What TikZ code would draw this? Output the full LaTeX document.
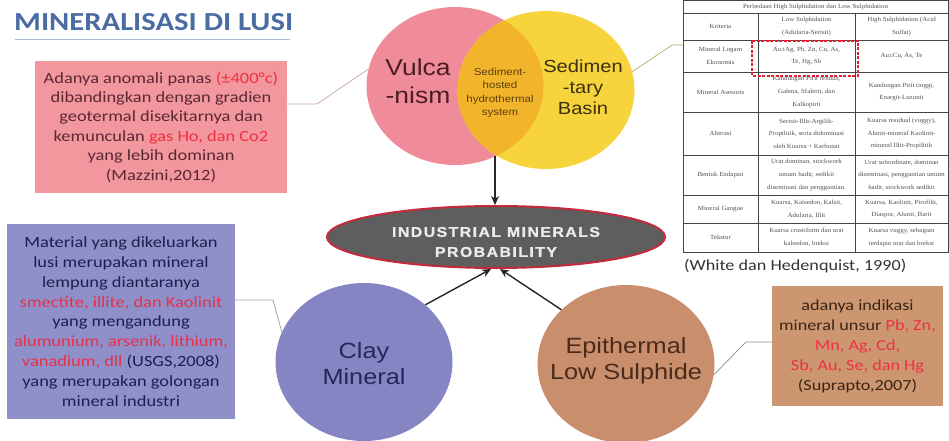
\documentclass[tikz,border=0pt]{standalone}
\usepackage{fontspec}
\setmainfont[FakeStretch=1.18]{Carlito}
\newfontfamily\arialf[FakeStretch=1.15]{Liberation Sans}
\newfontfamily\elfont[FakeStretch=1.12,LetterSpace=10,FakeBold=1.2]{Liberation Sans Bold}
\newfontfamily\tabf[FakeStretch=1.1]{Liberation Serif}
\usetikzlibrary{shapes.geometric,arrows.meta}
\definecolor{titleblue}{HTML}{4B6BA3}
\definecolor{uline}{HTML}{A8B8E0}
\definecolor{pinkbox}{HTML}{F3979F}
\definecolor{pinktxt}{HTML}{5A2832}
\definecolor{redtxt}{HTML}{F03040}
\definecolor{vulc}{HTML}{F08C99}
\definecolor{sedy}{HTML}{F7D33C}
\definecolor{ovl}{HTML}{F2B42A}
\definecolor{vultxt}{HTML}{4A1E24}
\definecolor{sedtxt}{HTML}{3C3010}
\definecolor{ovltxt}{HTML}{5A4010}
\definecolor{impfill}{HTML}{5E5E5E}
\definecolor{impedge}{HTML}{C42A3E}
\definecolor{purbox}{HTML}{8F8FC9}
\definecolor{purtxt}{HTML}{1E1E50}
\definecolor{purred}{HTML}{E8304A}
\definecolor{claycol}{HTML}{8585C3}
\definecolor{claytxt}{HTML}{26265A}
\definecolor{epicol}{HTML}{C98F6C}
\definecolor{epitxt}{HTML}{4A2A1A}
\definecolor{tanbox}{HTML}{CC9670}
\definecolor{tantxt}{HTML}{3A2414}
\definecolor{tabline}{HTML}{444444}
\definecolor{tabtxt}{HTML}{505050}
\definecolor{dashred}{HTML}{E02030}
\begin{document}
\begin{tikzpicture}[x=1pt,y=-1pt,
  boxtext/.style={align=center,inner sep=0pt,font=\fontsize{15.6}{19.4}\selectfont},
  bigcirc/.style={ellipse,minimum width=177pt,minimum height=158pt,inner sep=0pt},
  circlabel/.style={align=center,font=\arialf\fontsize{22}{26}\selectfont},
  conn/.style={line width=0.7pt},
  arr/.style={line width=1.4pt,draw=black!85,-{Stealth[length=9pt,width=8pt]}},
  cell/.style={align=center,inner sep=0pt,text=tabtxt,font=\tabf\fontsize{6.3}{12.6}\selectfont},
  ]
\useasboundingbox (0,0) rectangle (949,441);
\clip (0,0) rectangle (949,441);

% title
\node[anchor=west,inner sep=0pt,text=titleblue,font=\bfseries\fontsize{26}{30}\selectfont] (title) at (14,22) {MINERALISASI DI LUSI};
\draw[uline,line width=0.5pt] (15,39) -- (290,39);

% venn
\node[bigcirc,fill=vulc] (vul) at (455,86) {};
\node[bigcirc,fill=sedy] (sed) at (546,90) {};
\begin{scope}
  \clip (455,86) ellipse [x radius=88.5, y radius=79];
  \fill[ovl] (546,90) ellipse [x radius=88.5, y radius=79];
\end{scope}
\node[align=center,text=vultxt,font=\arialf\fontsize{23}{28}\selectfont] (vult) at (418,81) {Vulca\\-nism};
\node[align=center,text=sedtxt,font=\arialf\fontsize{17.5}{21}\selectfont] (sedt) at (583,87) {Sedimen\\-tary\\Basin};
\node[align=center,text=ovltxt,font=\arialf\fontsize{10}{13.3}\selectfont] (ovlt) at (500,93) {Sediment-\\hosted\\hydrothermal\\system};

% central ellipse
\node[ellipse,minimum width=338pt,minimum height=62pt,fill=impfill,draw=impedge,line width=2pt] (imp) at (496,237) {};
\node[align=center,text=white!92!black,font=\elfont\fontsize{14.2}{20}\selectfont] (impt) at (496,242) {INDUSTRIAL MINERALS\\PROBABILITY};

% arrow from venn
\coordinate (vbot) at (495,156);
\draw[arr] (vbot) -- (vbot |- imp.north);

% pink box
\node[fill=pinkbox,minimum width=252pt,minimum height=132pt,boxtext,text=pinktxt] (pbox) at (161,127)
  {Adanya anomali panas \textcolor{redtxt}{(±400°c)}\\dibandingkan dengan gradien\\geotermal disekitarnya dan\\kemunculan \textcolor{redtxt}{gas Ho, dan Co2}\\yang lebih dominan\\(Mazzini,2012)};
\coordinate (pk1) at (317,104);
\draw[conn,draw=vulc!70!black!60] (pk1 -| pbox.east) -- (pk1) -- (vul.169);

% table
\draw[tabline,line width=0.8pt] (683,0.5) rectangle (948,252);
\foreach \yy in {13,40,72,112,155,195,223} \draw[tabline,line width=0.8pt] (683,\yy) -- (948,\yy);
\draw[tabline,line width=0.9pt] (758,13) -- (758,252);
\draw[tabline,line width=0.9pt] (855,13) -- (855,252);
\node[cell] (th) at (815.5,6.5) {Perbedaan High Sulphidation dan Low Sulphidation};
\node[cell] (c11) at (720.5,26.5) {Kriteria};
\node[cell] (c12) at (806.5,26.5) {Low Sulphidation\\(Adularia-Serisit)};
\node[cell] (c13) at (901.5,26.5) {High Sulphidation (Acid\\Sulfat)};
\node[cell] (c21) at (720.5,56) {Mineral Logam\\Ekonomis};
\node[cell] (c22) at (806.5,56) {Au±Ag, Pb, Zn, Cu, As,\\Te, Hg, Sb};
\node[cell] (c23) at (901.5,56) {Au±Cu, As, Te};
\node[cell] (c31) at (720.5,92) {Mineral Asesoris};
\node[cell] (c32) at (806.5,92) {Kandungan Pirit rendah,\\Galena, Sfalerit, dan\\Kalkopirit};
\node[cell] (c33) at (901.5,92) {Kandungan Pirit tinggi,\\Enargit-Luzonit};
\node[cell] (c41) at (720.5,133.5) {Alterasi};
\node[cell] (c42) at (806.5,133.5) {Serisit-Illit-Argilik-\\Propilitik, serta didominasi\\oleh Kuarsa + Karbonat};
\node[cell] (c43) at (901.5,133.5) {Kuarsa residual (vuggy),\\Alunit-mineral Kaolinit-\\mineral Illit-Propilitik};
\node[cell] (c51) at (720.5,175) {Bentuk Endapan};
\node[cell] (c52) at (806.5,175) {Urat dominan, stockwork\\umum hadir, sedikit\\diseminasi dan penggantian.};
\node[cell] (c53) at (901.5,175) {Urat subordinate, dominan\\diseminasi, penggantian umum\\hadir, stockwork sedikit};
\node[cell] (c61) at (720.5,209) {Mineral Gangue};
\node[cell] (c62) at (806.5,209) {Kuarsa, Kalsedon, Kalsit,\\Adularia, Illit};
\node[cell] (c63) at (901.5,209) {Kuarsa, Kaolinit, Pirofilit,\\Diaspor, Alunit, Barit};
\node[cell] (c71) at (720.5,237.5) {Tekstur};
\node[cell] (c72) at (806.5,237.5) {Kuarsa crustiform dan urat\\kalsedon, breksi};
\node[cell] (c73) at (901.5,237.5) {Kuarsa vuggy, sebagian\\terdapat urat dan breksi};
\draw[dashred,line width=1.6pt,dash pattern=on 3pt off 1.5pt] (752,41) rectangle (858,76);
\node[anchor=west,inner sep=0pt,text=black!80,font=\fontsize{15.4}{18}\selectfont] (cap) at (684,266) {(White dan Hedenquist, 1990)};
\coordinate (tb1) at (672,45);
\draw[conn,draw=sedy!60!black!70] (sed.12) -- (tb1) -- (683,45);

% clay mineral
\node[bigcirc,fill=claycol] (clay) at (364,362) {};
\node[circlabel,text=claytxt] (clayt) at (364,364) {Clay\\Mineral};
\node[fill=purbox,minimum width=228pt,minimum height=195pt,boxtext,text=purtxt,font=\fontsize{15.6}{19.8}\selectfont] (ubox) at (121,321.5)
  {Material yang dikeluarkan\\lusi merupakan mineral\\lempung diantaranya\\\textcolor{purred}{smectite, illite, dan Kaolinit}\\yang mengandung\\\textcolor{purred}{alumunium, arsenik, lithium,}\\\textcolor{purred}{vanadium, dll} (USGS,2008)\\yang merupakan golongan\\mineral industri};
\coordinate (cl1) at (273,300);
\draw[conn,draw=purbox!60!black!60] (cl1 -| ubox.east) -- (cl1) -- (clay.160);

% epithermal
\node[bigcirc,fill=epicol] (epi) at (626,364) {};
\node[circlabel,text=epitxt] (epit) at (626,361) {Epithermal\\Low Sulphide};
\node[fill=tanbox,minimum width=171pt,minimum height=120pt,boxtext,text=tantxt,font=\fontsize{15.4}{20}\selectfont] (tbox) at (857.5,346)
  {adanya indikasi\\mineral unsur \textcolor{redtxt}{Pb, Zn,}\\\textcolor{redtxt}{Mn, Ag, Cd,}\\\textcolor{redtxt}{Sb, Au, Se, dan Hg}\\(Suprapto,2007)};
\coordinate (ep1) at (746,342);
\draw[conn,draw=black!45] (epi.-7) -- (ep1) -- (ep1 -| tbox.west);

% arrows to central ellipse
\draw[arr] (clay.43) -- ([xshift=-5pt]imp.south);
\draw[arr] (epi.140) -- ([xshift=4pt]imp.south);
\end{tikzpicture}
\end{document}
